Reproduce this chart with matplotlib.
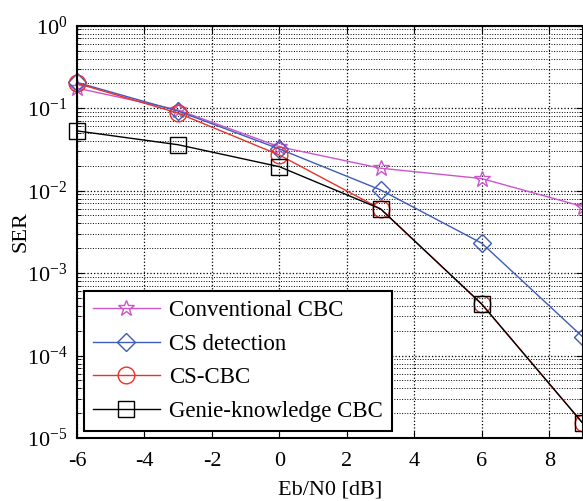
import matplotlib
matplotlib.use("Agg")
import matplotlib.pyplot as plt
import numpy as np
from matplotlib.ticker import LogLocator, NullFormatter

ebn0 = [-6, -3, 0, 3, 6, 9]
ser_conv = [0.175, 0.095, 0.034, 0.0187, 0.014, 0.0064]
ser_cs = [0.205, 0.092, 0.032, 0.0102, 0.0023, 1.67e-4]
ser_cscbc = [0.2, 0.087, 0.027, 0.006, 4.2e-4, 1.5e-5]
ser_genie = [0.053, 0.036, 0.0195, 0.006, 4.2e-4, 1.5e-5]

plt.rcParams["font.family"] = ["Liberation Serif", "DejaVu Serif"]
plt.rcParams["mathtext.fontset"] = "custom"
plt.rcParams["mathtext.rm"] = "Liberation Serif"
plt.rcParams["axes.unicode_minus"] = False

fig = plt.figure(figsize=(5.83, 5.01), dpi=100)
ax = fig.add_axes([77 / 583, 1 - 438 / 501, 506 / 583, (438 - 25.7) / 501])

ax.semilogy(ebn0, ser_conv, color="#CC55CC", marker="*", markersize=12,
            markerfacecolor="none", linewidth=1, label="Conventional CBC", clip_on=False)
ax.semilogy(ebn0, ser_cs, color="#3E5BB8", marker="D", markersize=9.5,
            markerfacecolor="none", linewidth=1, label="CS detection", clip_on=False)
ax.semilogy(ebn0, ser_cscbc, color="#E8322A", marker="o", markersize=12,
            markerfacecolor="none", linewidth=1, label="CS-CBC", clip_on=False)
ax.semilogy(ebn0, ser_genie, color="black", marker="s", markersize=12,
            markerfacecolor="none", linewidth=1, label="Genie-knowledge CBC", clip_on=False)

ax.set_xlim(-6, 9)
ax.set_ylim(1e-5, 1)
ax.set_xticks([-6, -4, -2, 0, 2, 4, 6, 8])
ax.yaxis.set_major_locator(LogLocator(base=10, numticks=10))
ax.yaxis.set_minor_locator(LogLocator(base=10, subs=np.arange(2, 10), numticks=10))
ax.yaxis.set_minor_formatter(NullFormatter())

ax.grid(True, which="major", linestyle=":", color="black", linewidth=0.9)
ax.grid(True, which="minor", axis="y", linestyle=":", color="black", linewidth=0.7)

ax.tick_params(which="both", direction="in", top=True, right=True, labelsize=16)
ax.tick_params(which="major", length=5)
ax.tick_params(axis="x", which="major", pad=10)
ax.tick_params(axis="y", which="major", pad=7)
ax.tick_params(which="minor", length=3)
for s in ax.spines.values():
    s.set_linewidth(1.5)

ax.set_xlabel("Eb/N0 [dB]", fontsize=16, labelpad=7)
ax.set_ylabel("SER", fontsize=16, labelpad=-3)

leg = ax.legend(loc="lower left", fontsize=16.5, fancybox=False, framealpha=1,
                edgecolor="black", handlelength=2.9, borderaxespad=0.3,
                labelspacing=0.55, borderpad=0.4, handletextpad=0.4)
leg.get_frame().set_linewidth(1.5)

fig.savefig("out.png", dpi=100)
